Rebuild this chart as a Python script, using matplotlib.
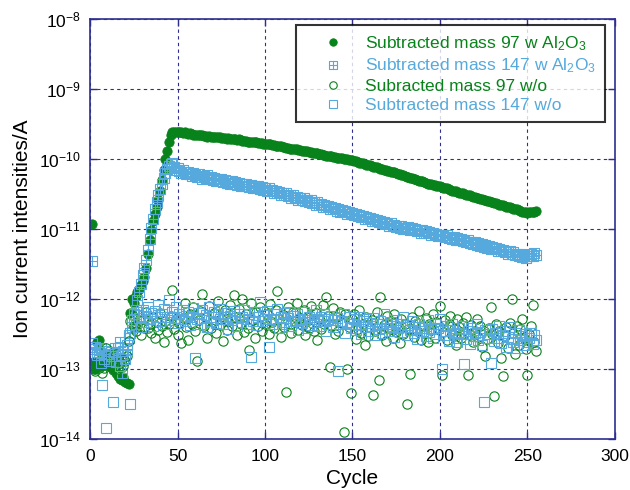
import matplotlib
matplotlib.use("Agg")
import matplotlib.pyplot as plt
import numpy as np
from matplotlib.path import Path

plt.rcParams["font.family"] = ["Liberation Sans", "DejaVu Sans"]
plt.rcParams["mathtext.fontset"] = "custom"
plt.rcParams["mathtext.rm"] = "Liberation Sans"
plt.rcParams["mathtext.it"] = "Liberation Sans"
plt.rcParams["mathtext.default"] = "regular"

# cycles 1..255, values read as log10(current / A)
cycles = np.arange(1, 256)

log_97_w = [
    -10.93, -12.90, -13.00, -12.62, -12.59, -12.85, -12.95, -12.88, -12.92, -12.90,
    -12.96, -12.97, -13.02, -12.93, -13.06, -13.10, -13.14, -13.16, -13.12, -13.18,
    -13.20, -13.22, -12.20, -12.00, -12.05, -11.95, -11.90, -11.86, -11.80, -11.74,
    -11.68, -11.55, -11.36, -11.16, -11.02, -10.88, -10.78, -10.68, -10.58, -10.45,
    -10.30, -10.15, -10.00, -9.88, -9.76, -9.66, -9.61, -9.61, -9.62, -9.62,
    -9.62, -9.62, -9.63, -9.62, -9.63, -9.64, -9.63, -9.64, -9.65, -9.65,
    -9.65, -9.66, -9.66, -9.66, -9.67, -9.67, -9.68, -9.67, -9.68, -9.68,
    -9.69, -9.68, -9.69, -9.69, -9.70, -9.70, -9.70, -9.71, -9.70, -9.71,
    -9.71, -9.72, -9.72, -9.73, -9.72, -9.73, -9.74, -9.74, -9.74, -9.75,
    -9.75, -9.75, -9.76, -9.76, -9.76, -9.77, -9.77, -9.77, -9.78, -9.78,
    -9.78, -9.79, -9.79, -9.80, -9.80, -9.81, -9.81, -9.82, -9.82, -9.83,
    -9.83, -9.84, -9.84, -9.85, -9.85, -9.85, -9.86, -9.86, -9.87, -9.87,
    -9.88, -9.88, -9.89, -9.89, -9.90, -9.90, -9.91, -9.91, -9.92, -9.92,
    -9.93, -9.93, -9.94, -9.94, -9.95, -9.95, -9.96, -9.96, -9.97, -9.97,
    -9.98, -9.98, -9.99, -9.99, -10.00, -10.00, -10.00, -10.01, -10.01, -10.02,
    -10.03, -10.03, -10.04, -10.05, -10.06, -10.06, -10.07, -10.08, -10.08, -10.09,
    -10.10, -10.11, -10.11, -10.12, -10.13, -10.14, -10.14, -10.15, -10.16, -10.17,
    -10.17, -10.18, -10.19, -10.19, -10.20, -10.21, -10.22, -10.23, -10.23, -10.24,
    -10.25, -10.26, -10.27, -10.27, -10.28, -10.29, -10.30, -10.31, -10.31, -10.32,
    -10.33, -10.34, -10.35, -10.35, -10.36, -10.37, -10.37, -10.38, -10.39, -10.39,
    -10.40, -10.41, -10.42, -10.42, -10.43, -10.44, -10.45, -10.45, -10.46, -10.47,
    -10.48, -10.48, -10.49, -10.50, -10.51, -10.51, -10.52, -10.53, -10.54, -10.54,
    -10.55, -10.56, -10.57, -10.57, -10.58, -10.59, -10.60, -10.60, -10.61, -10.62,
    -10.63, -10.63, -10.64, -10.65, -10.66, -10.66, -10.67, -10.68, -10.69, -10.69,
    -10.70, -10.71, -10.72, -10.72, -10.73, -10.74, -10.75, -10.76, -10.76, -10.77,
    -10.76, -10.75, -10.76, -10.75, -10.74,
]

log_147_w = [
    -11.46, -12.72, -12.68, -12.75, -12.80, -12.70, -12.78, -12.85, -12.74, -12.82,
    -12.80, -12.76, -12.88, -12.70, -12.84, -12.78, -12.62, -13.06, -12.86, -12.80,
    -12.72, -12.56, -12.48, -12.40, -12.28, -12.15, -12.02, -11.90, -11.78, -11.66,
    -11.56, -11.44, -11.30, -11.14, -10.98, -10.85, -10.72, -10.62, -10.52, -10.43,
    -10.35, -10.27, -10.20, -10.14, -10.10, -10.07, -10.05, -10.12, -10.16, -10.13,
    -10.17, -10.20, -10.15, -10.19, -10.22, -10.18, -10.21, -10.24, -10.20, -10.23,
    -10.26, -10.22, -10.25, -10.28, -10.24, -10.27, -10.23, -10.29, -10.26, -10.30,
    -10.27, -10.31, -10.28, -10.32, -10.29, -10.33, -10.30, -10.34, -10.31, -10.35,
    -10.32, -10.36, -10.33, -10.37, -10.34, -10.38, -10.35, -10.39, -10.36, -10.38,
    -10.40, -10.37, -10.41, -10.38, -10.42, -10.39, -10.43, -10.40, -10.44, -10.41,
    -10.45, -10.42, -10.46, -10.44, -10.48, -10.45, -10.49, -10.47, -10.51, -10.48,
    -10.52, -10.49, -10.53, -10.51, -10.55, -10.52, -10.56, -10.54, -10.58, -10.55,
    -10.59, -10.56, -10.60, -10.58, -10.62, -10.59, -10.63, -10.61, -10.65, -10.62,
    -10.66, -10.64, -10.68, -10.65, -10.69, -10.67, -10.71, -10.68, -10.72, -10.70,
    -10.74, -10.71, -10.75, -10.73, -10.76, -10.74, -10.78, -10.75, -10.79, -10.77,
    -10.80, -10.78, -10.82, -10.80, -10.83, -10.81, -10.85, -10.83, -10.86, -10.84,
    -10.88, -10.85, -10.89, -10.87, -10.90, -10.88, -10.92, -10.90, -10.93, -10.91,
    -10.95, -10.92, -10.96, -10.94, -10.97, -10.95, -10.99, -10.96, -11.00, -10.98,
    -11.00, -10.97, -11.01, -10.98, -11.02, -11.00, -11.03, -11.01, -11.05, -11.02,
    -11.05, -11.03, -11.06, -11.04, -11.08, -11.05, -11.09, -11.07, -11.10, -11.08,
    -11.10, -11.08, -11.12, -11.09, -11.13, -11.11, -11.14, -11.12, -11.16, -11.13,
    -11.16, -11.14, -11.17, -11.15, -11.19, -11.16, -11.20, -11.18, -11.21, -11.19,
    -11.23, -11.20, -11.24, -11.22, -11.25, -11.23, -11.27, -11.24, -11.28, -11.26,
    -11.29, -11.27, -11.31, -11.28, -11.32, -11.30, -11.33, -11.31, -11.35, -11.32,
    -11.36, -11.33, -11.37, -11.35, -11.38, -11.36, -11.40, -11.37, -11.41, -11.38,
    -11.39, -11.35, -11.38, -11.34, -11.37,
]

log_97_wo = [
    -12.92, -13.00, -13.03, -12.95, -12.98, -12.90, -13.05, -12.98, -12.70, -12.91,
    -12.85, -12.80, -12.88, -12.95, -12.78, -13.00, -12.92, -12.85, -12.96, -12.88,
    -12.82, -12.60, -12.32, -12.23, -12.38, -12.45, -12.37, -12.30, -12.52, -12.28,
    -12.42, -12.18, -12.41, -12.35, -12.48, -12.26, -12.55, -12.33, -12.44, -12.20,
    -12.39, -12.62, -12.31, -12.47, -12.36, -12.24, -11.87, -12.43, -12.29, -12.51,
    -12.34, -12.63, -12.27, -12.05, -12.40, -12.58, -12.22, -12.35, -12.12, -12.46,
    -12.89, -12.30, -12.17, -11.93, -12.38, -12.25, -12.55, -12.10, -12.42, -12.33,
    -12.20, -12.48, -12.03, -12.37, -12.28, -12.60, -12.15, -12.44, -12.32, -12.08,
    -12.39, -11.94, -12.26, -12.52, -12.14, -12.35, -12.00, -12.47, -12.22, -12.41,
    -12.73, -12.05, -12.30, -12.56, -12.18, -12.38, -12.11, -12.45, -12.27, -12.36,
    -12.21, -12.50, -12.07, -12.33, -12.42, -12.16, -11.89, -12.29, -12.54, -12.23,
    -12.40, -13.33, -12.12, -12.35, -12.48, -12.19, -12.31, -12.06, -12.44, -12.27,
    -12.37, -12.15, -12.52, -12.25, -12.41, -12.10, -12.34, -12.46, -12.20, -12.58,
    -12.29, -12.43, -12.08, -12.36, -11.97, -12.24, -12.97, -12.39, -12.13, -12.50,
    -12.26, -12.45, -12.18, -12.34, -13.90, -12.22, -13.00, -12.40, -13.34, -12.28,
    -12.22, -12.57, -12.43, -12.15, -12.48, -12.35, -12.65, -12.26, -12.53, -12.40,
    -12.30, -13.37, -12.46, -12.19, -13.16, -11.97, -12.51, -12.37, -12.60, -12.24,
    -12.42, -12.32, -12.56, -12.21, -12.47, -12.38, -12.63, -12.28, -12.50, -12.35,
    -13.50, -12.43, -13.07, -12.25, -12.54, -12.31, -12.46, -12.17, -12.59, -12.39,
    -12.49, -12.27, -12.62, -12.36, -12.44, -12.22, -12.55, -12.33, -12.41, -12.10,
    -13.09, -12.47, -12.30, -12.58, -12.38, -12.24, -12.52, -12.43, -12.66, -12.29,
    -12.40, -12.56, -12.34, -12.48, -12.25, -13.09, -12.51, -12.37, -12.62, -12.45,
    -12.28, -12.54, -12.39, -12.68, -12.46, -12.82, -12.57, -12.41, -12.11, -12.50,
    -13.39, -12.36, -12.63, -12.45, -12.84, -13.10, -12.53, -12.40, -12.70, -12.34,
    -12.00, -12.48, -12.79, -12.38, -12.65, -12.43, -12.28, -12.56, -12.72, -13.09,
    -12.50, -12.38, -12.09, -12.62, -12.74,
]

log_147_wo = [
    -12.63, -12.72, -12.68, -12.80, -12.75, -12.92, -13.23, -12.85, -13.84, -12.78,
    -12.88, -12.82, -13.47, -12.76, -12.90, -12.70, -12.95, -12.80, -12.74, -12.86,
    -12.66, -12.52, -13.50, -12.30, -12.21, -12.35, -12.18, -12.27, -12.40, -12.15,
    -12.24, -12.33, -12.12, -12.29, -12.20, -12.38, -12.17, -12.26, -12.09, -12.31,
    -12.22, -12.14, -12.36, -12.25, -12.02, -12.30, -12.19, -12.27, -12.11, -12.34,
    -12.21, -12.28, -12.15, -12.32, -12.24, -12.18, -12.37, -12.26, -12.13, -12.84,
    -12.29, -12.20, -12.35, -12.16, -12.27, -12.23, -12.40, -12.12, -12.31, -12.25,
    -12.18, -12.34, -12.22, -12.28, -12.14, -12.36, -12.26, -12.20, -12.43, -12.24,
    -12.30, -12.17, -12.27, -12.38, -12.21, -12.33, -12.25, -12.15, -12.35, -12.28,
    -12.22, -12.83, -12.31, -12.19, -12.37, -12.26, -12.04, -12.32, -12.23, -12.29,
    -12.17, -12.68, -12.28, -12.36, -12.22, -12.30, -12.14, -12.41, -12.25, -12.33,
    -12.20, -12.35, -12.27, -12.18, -12.39, -12.24, -12.31, -12.21, -12.44, -12.28,
    -12.34, -12.19, -12.30, -12.42, -12.25, -12.37, -12.22, -12.33, -12.15, -12.29,
    -12.38, -12.26, -12.32, -12.21, -12.45, -12.28, -12.35, -12.24, -12.40, -12.30,
    -12.27, -13.03, -12.36, -12.31, -12.22, -12.48, -12.33, -12.26, -12.42, -12.35,
    -12.29, -12.44, -12.37, -12.25, -12.50, -12.32, -12.40, -12.28, -12.46, -12.34,
    -12.38, -12.27, -12.52, -12.36, -12.43, -12.31, -12.48, -12.22, -12.41, -12.35,
    -12.45, -12.33, -12.39, -12.54, -12.30, -12.42, -12.36, -12.47, -12.26, -12.40,
    -12.51, -12.37, -12.44, -12.32, -12.49, -12.40, -12.57, -12.35, -12.46, -12.42,
    -12.38, -12.53, -12.30, -12.47, -12.43, -12.56, -12.36, -12.50, -12.41, -12.28,
    -13.00, -12.45, -12.52, -12.39, -12.60, -12.44, -12.35, -12.55, -12.48, -12.62,
    -12.42, -12.50, -12.38, -12.93, -12.57, -12.46, -12.64, -12.41, -12.53, -12.49,
    -12.36, -12.58, -12.47, -12.66, -13.47, -12.44, -12.55, -12.50, -12.91, -12.43,
    -12.60, -12.48, -12.56, -12.38, -12.63, -12.52, -12.45, -12.68, -12.54, -12.40,
    -12.57, -12.62, -12.48, -12.70, -12.44, -12.59, -12.53, -12.66, -12.50, -12.61,
    -12.55, -12.48, -12.64, -12.52, -12.58,
]

labels = [
    "Subtracted mass 97 w Al$_2$O$_3$",
    "Subtracted mass 147 w Al$_2$O$_3$",
    "Subracted mass 97 w/o",
    "Subtracted mass 147 w/o",
]

green = "#08821a"
blue = "#55a9dc"
navy = "#2e2e8f"

# square with a plus inside
boxplus = Path(
    [(-1, -1), (1, -1), (1, 1), (-1, 1), (-1, -1), (0, -1), (0, 1), (-1, 0), (1, 0)],
    [Path.MOVETO, Path.LINETO, Path.LINETO, Path.LINETO, Path.CLOSEPOLY,
     Path.MOVETO, Path.LINETO, Path.MOVETO, Path.LINETO],
)

fig = plt.figure(figsize=(6.3, 4.9), dpi=100)
ax = fig.add_axes([0.143, 0.104, 0.833, 0.857])

ms = 6.7
ax.plot(cycles, 10 ** np.array(log_97_w), "o", color=green, ms=ms, mew=0.6,
        label=labels[0])
ax.plot(cycles, 10 ** np.array(log_147_w), marker=boxplus, ls="none", ms=ms,
        mfc="none", mec=blue, mew=0.8, label=labels[1])
ax.plot(cycles, 10 ** np.array(log_97_wo), "o", ms=ms, mfc="none", mec=green,
        mew=0.8, label=labels[2])
ax.plot(cycles, 10 ** np.array(log_147_wo), "s", ms=ms, mfc="none", mec=blue,
        mew=0.8, label=labels[3])

ax.set_yscale("log")
ax.set_xlim(0, 300)
ax.set_ylim(1e-14, 1e-8)
ax.set_xticks(range(0, 301, 50))
ax.set_yticks([1e-14, 1e-13, 1e-12, 1e-11, 1e-10, 1e-9, 1e-8])
ax.yaxis.set_minor_locator(matplotlib.ticker.NullLocator())

ax.grid(True, color=navy, linestyle=(0, (3, 3)), linewidth=0.8)
ax.set_axisbelow(True)
for sp in ax.spines.values():
    sp.set_color(navy)
    sp.set_linewidth(1.2)
ax.tick_params(direction="in", length=5, width=1, color=navy, labelsize=12.5,
               top=True, right=True)
ax.tick_params(axis="x", pad=7)
ax.tick_params(axis="y", pad=7)

ax.set_xlabel("Cycle", fontsize=15, labelpad=4)
ax.set_ylabel("Ion current intensities/A", fontsize=15, labelpad=5)

leg = ax.legend(loc="upper right", bbox_to_anchor=(0.981, 0.985), fontsize=12.5,
                frameon=True, fancybox=False, edgecolor="black",
                markerscale=0.8, handlelength=3.3, handletextpad=0.2,
                borderpad=0.5, labelspacing=0.22, borderaxespad=0,
                alignment="left")
leg.get_frame().set_linewidth(1.5)
for text, col in zip(leg.get_texts(), [green, blue, green, blue]):
    text.set_color(col)

fig.savefig("out.png", dpi=100)
